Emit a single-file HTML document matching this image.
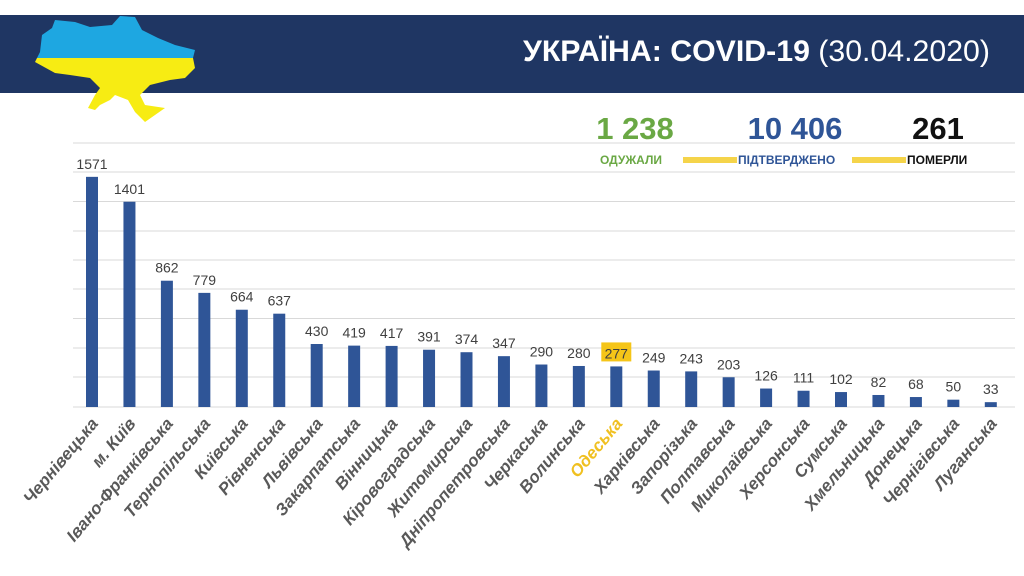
<!DOCTYPE html>
<html><head><meta charset="utf-8"><style>
html,body{margin:0;padding:0;background:#fff;}
svg{display:block;font-family:"Liberation Sans",sans-serif;}
</style></head><body>
<svg width="1024" height="576" viewBox="0 0 1024 576" xmlns="http://www.w3.org/2000/svg">
<rect x="0" y="15" width="1024" height="78" fill="#1f3663"/>
<defs><clipPath id="m"><polygon points="55,20 75,22 90,27 112,25 120,16 135,17 142,30 158,38 175,45 195,50 193,58 195,68 185,78 170,80 150,85 140,95 145,105 165,108 155,115 145,122 135,112 128,100 115,95 110,100 100,105 95,110 88,108 95,95 100,88 90,78 70,75 55,73 35,62 40,52 42,35 52,28"/></clipPath></defs>
<g clip-path="url(#m)"><rect x="0" y="0" width="220" height="58" fill="#1ea7e1"/><rect x="0" y="58" width="220" height="80" fill="#f7ec13"/></g>
<text x="990" y="61" text-anchor="end" fill="#fff" font-size="30" textLength="467" lengthAdjust="spacingAndGlyphs"><tspan font-weight="bold">УКРАЇНА: COVID-19</tspan> (30.04.2020)</text>
<text x="635" y="139" text-anchor="middle" fill="#6aa844" font-size="31" font-weight="bold">1 238</text>
<text x="795" y="139" text-anchor="middle" fill="#2f5597" font-size="31" font-weight="bold">10 406</text>
<text x="938" y="139" text-anchor="middle" fill="#111" font-size="31" font-weight="bold">261</text>
<text x="600" y="164" fill="#6aa844" font-size="12" font-weight="bold">ОДУЖАЛИ</text>
<rect x="683" y="157" width="54" height="6" fill="#f5d44a"/>
<text x="738" y="164" fill="#2f5597" font-size="12" font-weight="bold">ПІДТВЕРДЖЕНО</text>
<rect x="852" y="157" width="54" height="6" fill="#f5d44a"/>
<text x="907" y="164" fill="#111" font-size="12" font-weight="bold">ПОМЕРЛИ</text>
<g stroke="#d9d9d9" stroke-width="1">
<line x1="73" x2="1015" y1="143" y2="143"/><line x1="73" x2="1015" y1="172" y2="172"/><line x1="73" x2="1015" y1="201.5" y2="201.5"/><line x1="73" x2="1015" y1="231" y2="231"/><line x1="73" x2="1015" y1="260" y2="260"/><line x1="73" x2="1015" y1="289" y2="289"/><line x1="73" x2="1015" y1="318.5" y2="318.5"/><line x1="73" x2="1015" y1="348" y2="348"/><line x1="73" x2="1015" y1="377" y2="377"/><line x1="73" x2="1015" y1="407" y2="407"/>
</g>
<g id="bars"></g>
</svg>
<script>
var d=[["Чернівецька",1571],["м. Київ",1401],["Івано-Франківська",862],["Тернопільська",779],["Київська",664],["Рівненська",637],["Львівська",430],["Закарпатська",419],["Вінницька",417],["Кіровоградська",391],["Житомирська",374],["Дніпропетровська",347],["Черкаська",290],["Волинська",280],["Одеська",277],["Харківська",249],["Запорізька",243],["Полтавська",203],["Миколаївська",126],["Херсонська",111],["Сумська",102],["Хмельницька",82],["Донецька",68],["Чернігівська",50],["Луганська",33]];
var g=document.getElementById("bars"),s="";
d.forEach(function(e,i){var cx=92+i*37.45,h=e[1]*0.1465,y=407-h;
s+='<rect x="'+(cx-6)+'" y="'+y+'" width="12" height="'+h+'" fill="#2f5597"/>';
if(i==14){s+='<rect x="'+(cx-15)+'" y="'+(y-24)+'" width="30" height="19" fill="#f5c518"/>';}
s+='<text x="'+cx+'" y="'+(y-8)+'" text-anchor="middle" font-size="14" fill="#404040">'+e[1]+'</text>';
s+='<text transform="translate('+(cx+7)+',424) rotate(-50)" text-anchor="end" font-size="17" font-weight="bold" font-style="italic" fill="'+(i==14?'#f0c020':'#595959')+'">'+e[0]+'</text>';});
g.innerHTML=s;
</script>
</body></html>
